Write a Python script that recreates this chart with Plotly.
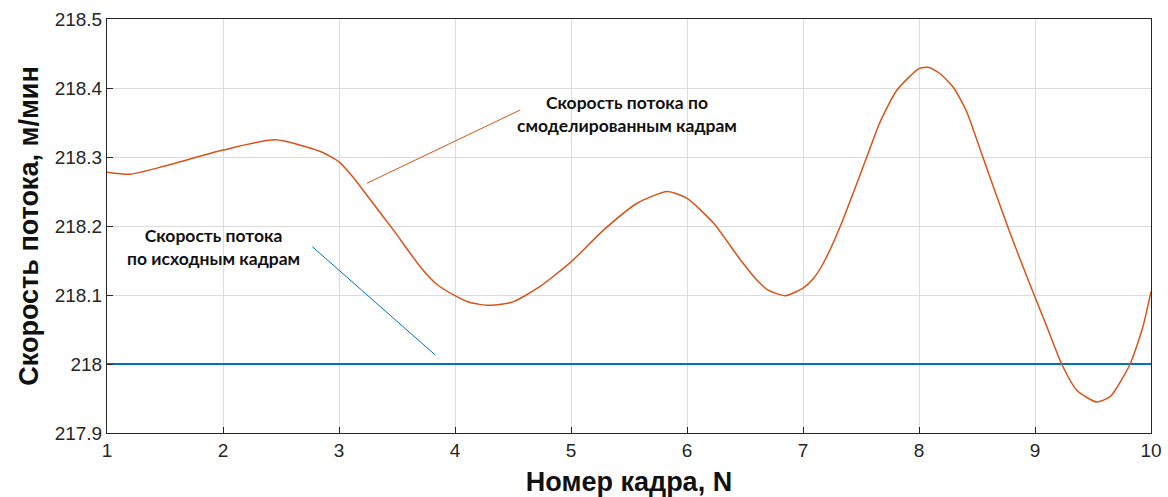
import plotly.graph_objects as go

# Data
frame_n = [1.0, 1.2, 1.5, 2.0, 2.45, 2.84, 3.0, 3.12, 3.27, 3.47, 3.70, 3.84, 4.0, 4.13, 4.30, 4.50,
           4.73, 5.0, 5.28, 5.57, 5.83, 6.0, 6.23, 6.46, 6.6, 6.7, 6.85, 7.0, 7.09, 7.175, 7.32,
           7.55, 7.66, 7.81, 8.0, 8.08, 8.18, 8.30, 8.41, 8.55, 8.78, 8.95, 9.0, 9.10, 9.23,
           9.36, 9.53, 9.65, 9.82, 9.93, 10.0]
modeled_speed = [218.278, 218.275, 218.287, 218.310, 218.325, 218.308, 218.293, 218.271, 218.238,
                 218.194, 218.141, 218.116, 218.099, 218.089, 218.085, 218.090, 218.112, 218.148,
                 218.194, 218.233, 218.250, 218.240, 218.204, 218.151, 218.122, 218.107, 218.099,
                 218.110, 218.124, 218.146, 218.199, 218.300, 218.349, 218.397, 218.428, 218.430,
                 218.421, 218.400, 218.366, 218.300, 218.192, 218.118, 218.097, 218.055, 218.000,
                 217.962, 217.945, 217.953, 218.000, 218.054, 218.105]
orig_n = [1, 10]
orig_speed = [218.0, 218.0]

x_ticks = [1, 2, 3, 4, 5, 6, 7, 8, 9, 10]
y_ticks = [217.9, 218.0, 218.1, 218.2, 218.3, 218.4, 218.5]
y_tick_text = ["217.9", "218", "218.1", "218.2", "218.3", "218.4", "218.5"]

label_modeled = "Скорость потока по<br>смоделированным кадрам"
label_orig = "Скорость потока<br>по исходным кадрам"
pointer_modeled = [(3.24, 218.262), (4.56, 218.368)]
pointer_orig = [(2.77, 218.17), (3.83, 218.013)]
label_modeled_pos = (5.48, 218.362)
label_orig_pos = (1.92, 218.170)

ORANGE = "#D95319"
BLUE = "#0072BD"
TITLE_FONT = "Liberation Sans, Arial, sans-serif"

fig = go.Figure()
fig.add_trace(go.Scatter(x=orig_n, y=orig_speed, mode="lines",
                         line=dict(color=BLUE, width=2), showlegend=False))
fig.add_trace(go.Scatter(x=frame_n, y=modeled_speed, mode="lines",
                         line=dict(color=ORANGE, width=1.5, shape="spline", smoothing=0.6),
                         showlegend=False))

fig.add_shape(type="line", xref="x", yref="y",
              x0=pointer_modeled[0][0], y0=pointer_modeled[0][1],
              x1=pointer_modeled[1][0], y1=pointer_modeled[1][1],
              line=dict(color=ORANGE, width=1))
fig.add_shape(type="line", xref="x", yref="y",
              x0=pointer_orig[0][0], y0=pointer_orig[0][1],
              x1=pointer_orig[1][0], y1=pointer_orig[1][1],
              line=dict(color=BLUE, width=1))

ann_font = dict(family="Lato, 'Noto Sans', sans-serif", size=17.5, color="#111111")
fig.add_annotation(x=label_modeled_pos[0], y=label_modeled_pos[1], xref="x", yref="y",
                   text="<b>" + label_modeled + "</b>", showarrow=False, align="center",
                   font=ann_font)
fig.add_annotation(x=label_orig_pos[0], y=label_orig_pos[1], xref="x", yref="y",
                   text="<b>" + label_orig + "</b>", showarrow=False, align="center",
                   font=ann_font)

axis_common = dict(showline=True, linecolor="#262626", linewidth=1, mirror=True,
                   showgrid=True, gridcolor="#DCDCDC", gridwidth=1,
                   ticks="inside", ticklen=6, tickcolor="#262626",
                   zeroline=False, automargin=False,
                   tickfont=dict(family=TITLE_FONT, size=19, color="#262626"))

fig.update_layout(
    width=1168, height=497,
    margin=dict(l=107, r=17, t=19, b=64),
    paper_bgcolor="white", plot_bgcolor="white",
    xaxis=dict(range=[1, 10], tickvals=x_ticks,
               title=dict(text="<b>Номер кадра, N</b>", standoff=14,
                          font=dict(family=TITLE_FONT, size=27, color="#111111")),
               **axis_common),
    yaxis=dict(range=[217.9, 218.5], tickvals=y_ticks, ticktext=y_tick_text,
               title=dict(text="<b>Скорость потока, м/мин</b>", standoff=8,
                          font=dict(family=TITLE_FONT, size=27, color="#111111")),
               **axis_common),
)

fig.write_html("out.html")
